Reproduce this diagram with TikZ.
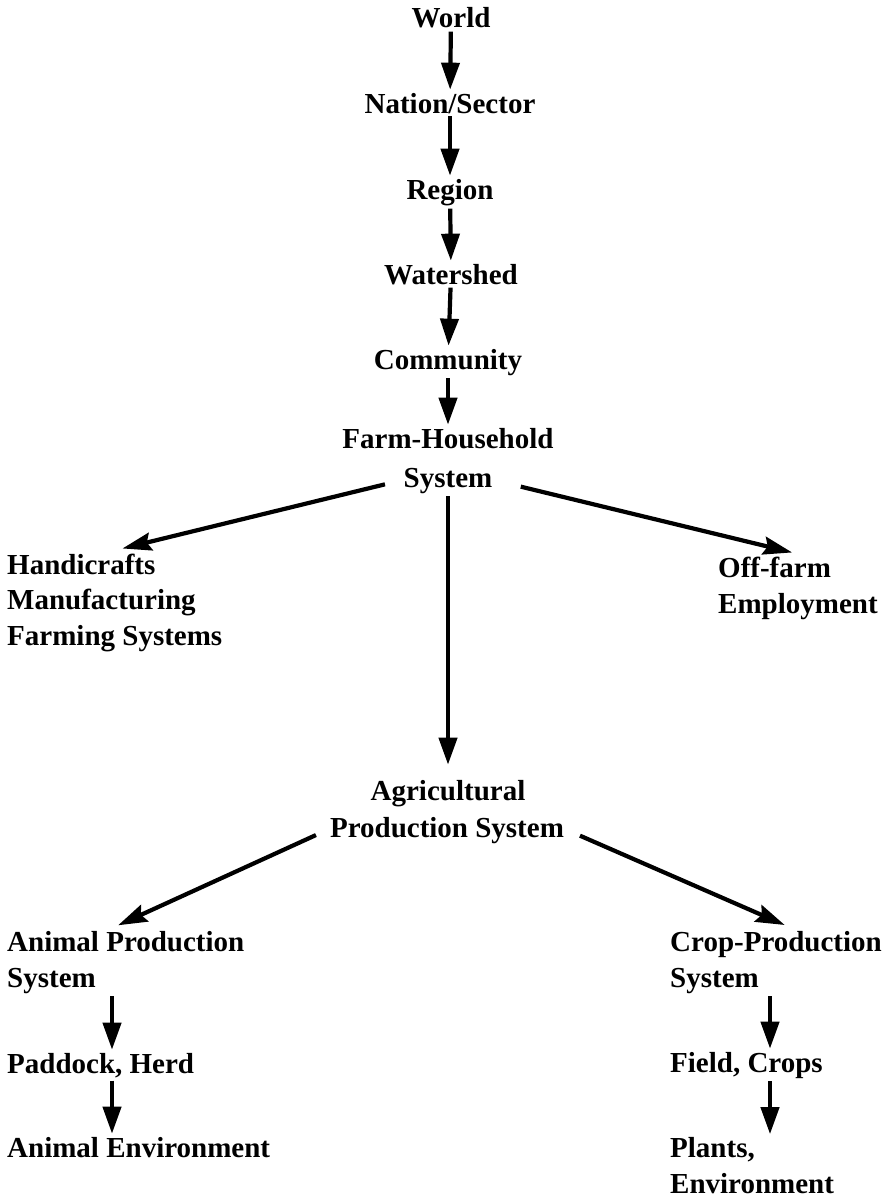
\documentclass[tikz,border=0pt]{standalone}
\usepackage{fontspec}
\setmainfont{Liberation Serif}
\usetikzlibrary{arrows.meta}
\begin{document}
\begin{tikzpicture}[x=1pt,y=-1pt,
  lbl/.style={inner sep=3pt, font=\fontsize{29}{35.5}\selectfont\bfseries},
  lblw/.style={lbl, anchor=base west, align=left},
  lblc/.style={lbl, anchor=base},
  varr/.style={line width=4.2pt, -{Triangle[length=27pt,width=18pt]}},
  darr/.style={line width=4.2pt, -{Stealth[length=29pt,width=18pt,inset=4pt]}}]
\useasboundingbox (0,0) rectangle (885,1199);
\fill[white] (0,0) rectangle (885,1199);
% spine
\node[lblc] (world) at (451,28) {World};
\node[lblc] (nation) at (450,113) {Nation/Sector};
\node[lblc] (region) at (450,199) {Region};
\node[lblc] (watershed) at (451,284) {Watershed};
\node[lblc] (community) at (448,369) {Community};
\node[lblc] (fh) at (448,448) {Farm-Household};
\node[lblc] (fhs) at (448,487) {System};
% branches (base anchor of a multi-line node = last line)
\node[lblw] (hmf) at (4,645) {Handicrafts\\Manufacturing\\Farming Systems};
\node[lblw] (off) at (715,613) {Off-farm\\Employment};
\node[lblc] (agri) at (448,800) {Agricultural};
\node[lblc] (prod) at (447,837) {Production System};
\node[lblw] (anim) at (4,987) {Animal Production\\System};
\node[lblw] (padd) at (4,1073) {Paddock, Herd};
\node[lblw] (anenv) at (4,1157) {Animal Environment};
\node[lblw] (crop) at (667,987) {Crop-Production\\System};
\node[lblw] (field) at (667,1072) {Field, Crops};
\node[lblw] (plants) at (667,1193) {Plants,\\Environment};
% connectors
\draw[varr] (world) -- (nation);
\draw[varr] (nation) -- (region);
\draw[varr] (region) -- (watershed);
\draw[varr] (watershed) -- (community);
\draw[varr] (community) -- (fh);
\draw[darr, shorten <=16pt, shorten >=8pt] (fhs.west) -- (hmf.north);
\draw[darr, shorten <=26pt, shorten >=6pt] (fhs.east) -- (off.north);
\draw[varr, shorten >=12pt] (fhs.south) -- (agri.north);
\draw[darr, shorten <=12pt, shorten >=7pt] (prod.west) -- ([xshift=-14pt]anim.north);
\draw[darr, shorten <=14pt, shorten >=8pt] (prod.east) -- ([xshift=16pt]crop.north);
\draw[varr] ([xshift=108pt]anim.south west) -- ([xshift=108pt]anim.south west |- padd.north);
\draw[varr] ([xshift=108pt]padd.south west) -- ([xshift=108pt]padd.south west |- anenv.north);
\draw[varr] ([xshift=103pt]crop.south west) -- ([xshift=103pt]crop.south west |- field.north);
\draw[varr] ([xshift=103pt]field.south west) -- ([xshift=103pt]field.south west |- plants.north);
\end{tikzpicture}
\end{document}
